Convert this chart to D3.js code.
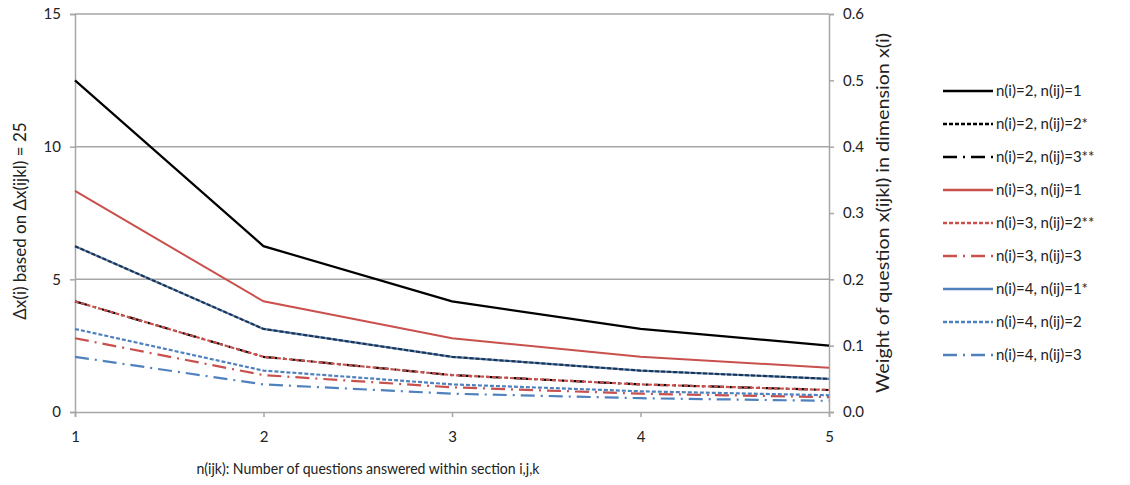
<!DOCTYPE html>
<html>
<head>
<meta charset="utf-8">
<script src="https://cdn.jsdelivr.net/npm/d3@7"></script>
<style>
  body { margin: 0; background: #fff; }
  svg text { font-family: Lato, "Open Sans", sans-serif; fill: #222; }
</style>
</head>
<body>
<div id="chart"></div>
<script>
// Values
const xValues = [1, 2, 3, 4, 5];
const seriesNames = [
  'n(i)=2, n(ij)=1', 'n(i)=2, n(ij)=2*', 'n(i)=2, n(ij)=3**',
  'n(i)=3, n(ij)=1', 'n(i)=3, n(ij)=2**', 'n(i)=3, n(ij)=3',
  'n(i)=4, n(ij)=1*', 'n(i)=4, n(ij)=2', 'n(i)=4, n(ij)=3'
];
const seriesValues = [
  [12.5, 6.25, 4.17, 3.13, 2.5],
  [6.25, 3.13, 2.08, 1.56, 1.25],
  [4.17, 2.08, 1.39, 1.04, 0.83],
  [8.33, 4.17, 2.78, 2.08, 1.67],
  [4.17, 2.08, 1.39, 1.04, 0.83],
  [2.78, 1.39, 0.93, 0.69, 0.56],
  [6.25, 3.13, 2.08, 1.56, 1.25],
  [3.13, 1.56, 1.04, 0.78, 0.63],
  [2.08, 1.04, 0.69, 0.52, 0.42]
];
const leftTicks = [0, 5, 10, 15];
const rightTicks = [0, 0.1, 0.2, 0.3, 0.4, 0.5, 0.6];

// styles per series
const colors = ['#000', '#000', '#000', '#c9504d', '#c9504d', '#c9504d', '#4f81bd', '#4f81bd', '#4f81bd'];
const dashes = [null, '4,2', '14,6,2,6', null, '4,2', '14,6,2,6', null, '4,2', '14,6,2,6'];
const widths = [2.2, 2.2, 2.2, 2, 2.2, 2.2, 2.2, 2.2, 2.2];
// drawing order (so overlapping lines look like the reference)
const drawOrder = [0, 3, 6, 1, 2, 4, 5, 7, 8];

const width = 1130, height = 485;
const svg = d3.select('#chart').append('svg')
  .attr('width', width).attr('height', height);

const x = d3.scaleLinear().domain([1, 5]).range([75, 829]);
const y = d3.scaleLinear().domain([0, 15]).range([412, 14]);
const y2 = d3.scaleLinear().domain([0, 0.6]).range([412, 14]);

// gridlines
svg.append('g').selectAll('line')
  .data(leftTicks.filter(d => d > 0))
  .join('line')
    .attr('x1', x(1)).attr('x2', x(5))
    .attr('y1', d => y(d)).attr('y2', d => y(d))
    .attr('stroke', '#a6a6a6').attr('stroke-width', 1.5);

// left axis
const gl = svg.append('g')
  .attr('transform', `translate(${x(1)},0)`)
  .call(d3.axisLeft(y).tickValues(leftTicks).tickSize(5).tickPadding(9));
// right axis
const gr = svg.append('g')
  .attr('transform', `translate(${x(5)},0)`)
  .call(d3.axisRight(y2).tickValues(rightTicks).tickFormat(d3.format('.1f')).tickSize(5).tickPadding(9));
// bottom axis
const gb = svg.append('g')
  .attr('transform', `translate(0,${y(0)})`)
  .call(d3.axisBottom(x).tickValues(xValues).tickFormat(d3.format('d')).tickSize(5).tickPadding(14));

[gl, gr, gb].forEach(g => {
  g.select('.domain').attr('stroke', '#a6a6a6').attr('stroke-width', 1.5);
  g.selectAll('.tick line').attr('stroke', '#a6a6a6').attr('stroke-width', 1.5);
  g.selectAll('.tick text').style('font-size', '15px').attr('fill', '#222');
});

// lines
const line = d3.line()
  .x((d, i) => x(xValues[i]))
  .y(d => y(d));

svg.append('g').selectAll('path')
  .data(drawOrder)
  .join('path')
    .attr('d', i => line(seriesValues[i]))
    .attr('fill', 'none')
    .attr('stroke', i => colors[i])
    .attr('stroke-width', i => widths[i])
    .attr('stroke-opacity', i => (i === 1 ? 0.6 : 1))
    .attr('stroke-dasharray', i => dashes[i]);

// axis titles
svg.append('text')
  .attr('transform', `translate(26,${(y(0) + y(15)) / 2 + 8}) rotate(-90)`)
  .attr('text-anchor', 'middle')
  .style('font-size', '17px')
  .text('Δx(i) based on Δx(ijkl) = 25');

svg.append('text')
  .attr('transform', `translate(889,${(y(0) + y(15)) / 2}) rotate(-90)`)
  .attr('text-anchor', 'middle')
  .style('font-size', '17px')
  .attr('textLength', 360)
  .attr('lengthAdjust', 'spacingAndGlyphs')
  .text('Weight of question x(ijkl) in dimension x(i)');

svg.append('text')
  .attr('x', 368).attr('y', 474)
  .attr('text-anchor', 'middle')
  .style('font-size', '15.5px')
  .attr('textLength', 343)
  .attr('lengthAdjust', 'spacingAndGlyphs')
  .text('n(ijk): Number of questions answered within section i,j,k');

// legend
const legend = svg.append('g').attr('transform', 'translate(943,91)');
const rows = legend.selectAll('g')
  .data(seriesNames)
  .join('g')
    .attr('transform', (d, i) => `translate(0,${i * 33})`);
rows.append('line')
  .attr('x1', 0).attr('x2', 50)
  .attr('stroke', (d, i) => colors[i])
  .attr('stroke-width', 2.5)
  .attr('stroke-dasharray', (d, i) => dashes[i]);
rows.append('text')
  .attr('x', 53).attr('dy', '0.35em')
  .style('font-size', '15px')
  .text(d => d);
</script>
</body>
</html>
